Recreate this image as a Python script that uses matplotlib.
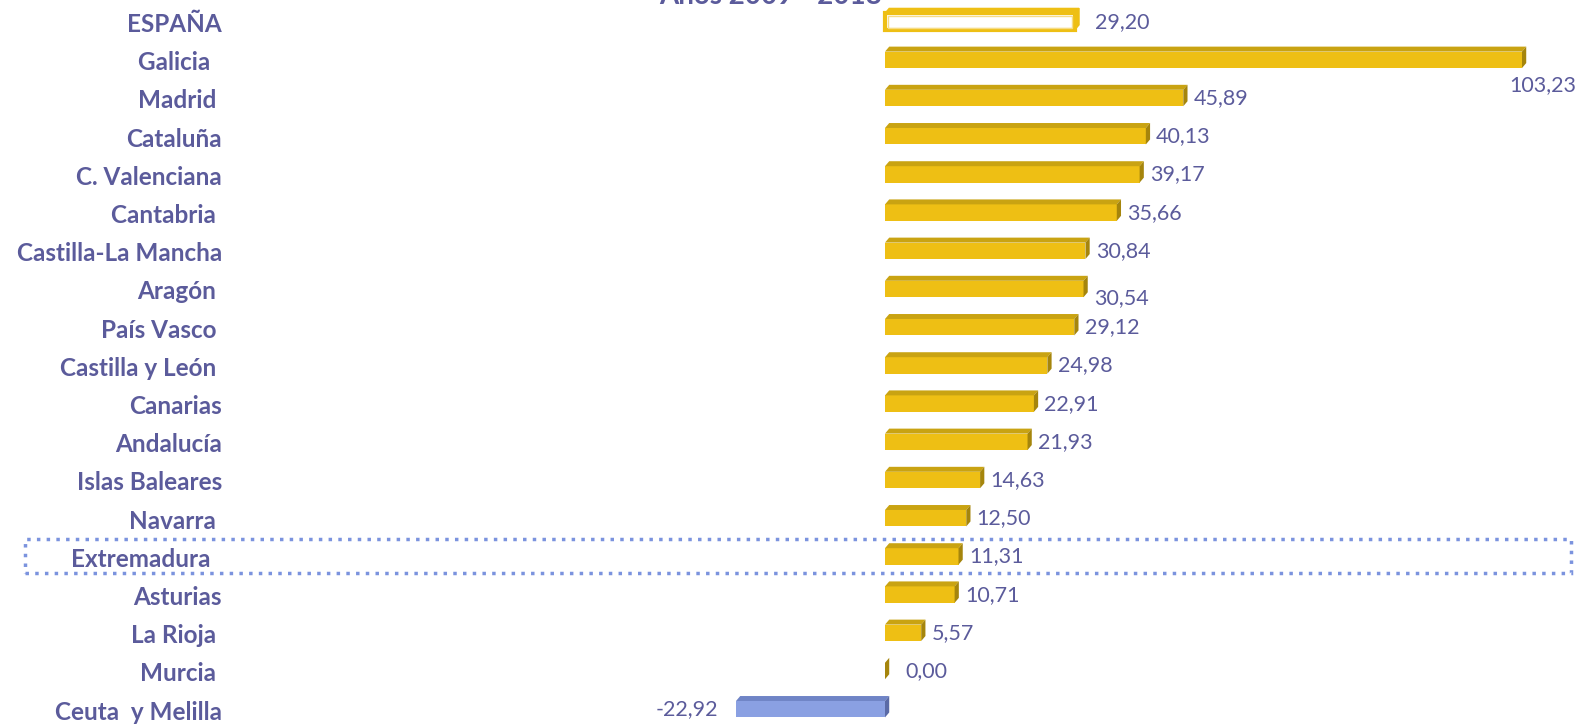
import matplotlib
matplotlib.use("Agg")
import matplotlib.pyplot as plt
from matplotlib.patches import Polygon, Rectangle

# datos: variacion 2009-2018 por comunidad
regiones = ["ESPAÑA", "Galicia  ", "Madrid ", "Cataluña", "C. Valenciana", "Cantabria ",
            "Castilla-La Mancha", "Aragón ", "País Vasco ", "Castilla y León ", "Canarias",
            "Andalucía", "Islas Baleares", "Navarra ", "Extremadura  ", "Asturias",
            "La Rioja ", "Murcia ", "Ceuta  y Melilla"]
valores = [29.20, 103.23, 45.89, 40.13, 39.17, 35.66, 30.84, 30.54, 29.12, 24.98, 22.91,
           21.93, 14.63, 12.50, 11.31, 10.71, 5.57, 0.00, -22.92]
etiquetas = ["29,20", "103,23", "45,89", "40,13", "39,17", "35,66", "30,84", "30,54", "29,12",
             "24,98", "22,91", "21,93", "14,63", "12,50", "11,31", "10,71", "5,57", "0,00", "-22,92"]
titulo = "Años 2009 - 2018"
eje_max = 98   # el area del grafico corta la barra de Galicia

TXT = "#5b5b9b"
ORO, ORO_TOP, ORO_SIDE = "#eebf14", "#c9a312", "#a5850c"
AZUL, AZUL_TOP, AZUL_SIDE = "#8aa0e2", "#6f84c6", "#5a6aa6"

W, H = 1586, 724
fig = plt.figure(figsize=(W / 100, H / 100), dpi=100)
ax = fig.add_axes([0, 0, 1, 1])
x0, esc = 885, 6.5          # px del cero y px por unidad
ax.set_xlim(-x0 / esc, (W - x0) / esc)
ax.set_ylim((H - 19.5) / 38.2, -19.5 / 38.2)
ax.axis("off")

dx, dy = 0.65, 0.13      # profundidad del efecto 3D
for i, v in enumerate(valores):
    v = min(v, eje_max)
    top, bot = i - 0.29 + dy, i + 0.27
    if v < 0:
        cara, tapa, lado = AZUL, AZUL_TOP, AZUL_SIDE
    else:
        cara, tapa, lado = ORO, ORO_TOP, ORO_SIDE
    if i == 0:
        # españa: barra hueca con borde dorado
        ax.add_patch(Rectangle((0, top), v, bot - top, fc="white", ec=ORO, lw=3, zorder=2))
        ax.add_patch(Rectangle((0.4, top + 0.06), v - 0.8, bot - top - 0.12, fc="none",
                               ec="#f6dc86", lw=1, zorder=3))
        ax.add_patch(Polygon([(v, top), (v + dx, top - dy), (v + dx, bot - dy), (v, bot)],
                             fc=ORO, ec=ORO, lw=1, zorder=2))
        ax.add_patch(Polygon([(0, top), (dx, top - dy), (v + dx, top - dy), (v, top)],
                             fc=ORO, ec=ORO, lw=1, zorder=2))
        continue
    ax.add_patch(Rectangle((min(0, v), top), abs(v), bot - top, fc=cara, ec="none", zorder=2))
    ax.add_patch(Polygon([(min(0, v), top), (min(0, v) + dx, top - dy), (max(0, v) + dx, top - dy),
                          (max(0, v), top)], fc=tapa, ec="none", zorder=2))
    ax.add_patch(Polygon([(max(0, v), top), (max(0, v) + dx, top - dy), (max(0, v) + dx, bot - dy),
                          (max(0, v), bot)], fc=lado, ec="none", zorder=2))

# etiquetas de categoria
for i, r in enumerate(regiones):
    ax.text((222 - x0) / esc, i + 0.13, r, ha="right", va="center", fontsize=17.5,
            fontweight="bold", color=TXT, family="Lato")

# etiquetas de valor
ajuste = {0: (1.5, 0.0), 7: (0.0, 0.24), 17: (1.5, 0.0)}
for i, (v, t) in enumerate(zip(valores, etiquetas)):
    if i == 1:
        ax.text((1576 - x0) / esc, i + 0.72, t, ha="right", va="center", fontsize=15.5,
                color=TXT, family="Lato")
        continue
    ddx, ddy = ajuste.get(i, (0, 0))
    if v < 0:
        ax.text(v - 2.7, i + 0.06, t, ha="right", va="center", fontsize=15.5, color=TXT,
                family="Lato")
    else:
        ax.text(v + 1.6 + ddx, i + 0.06 + ddy, t, ha="left", va="center", fontsize=15.5,
                color=TXT, family="Lato")

# recuadro punteado de Extremadura
fig.add_artist(Rectangle((25 / W, 1 - 573 / H), (1571 - 25) / W, (573 - 539) / H,
                         transform=fig.transFigure, fill=False, ec="#7b93de", lw=2.5,
                         ls=(0, (1, 1.8))))

# titulo (cortado en la imagen original)
fig.text(771 / W, 1 - 4 / H, titulo, ha="center", va="baseline", fontsize=20,
         fontweight="bold", color=TXT, family="Lato")

fig.savefig("out.png", dpi=100)
